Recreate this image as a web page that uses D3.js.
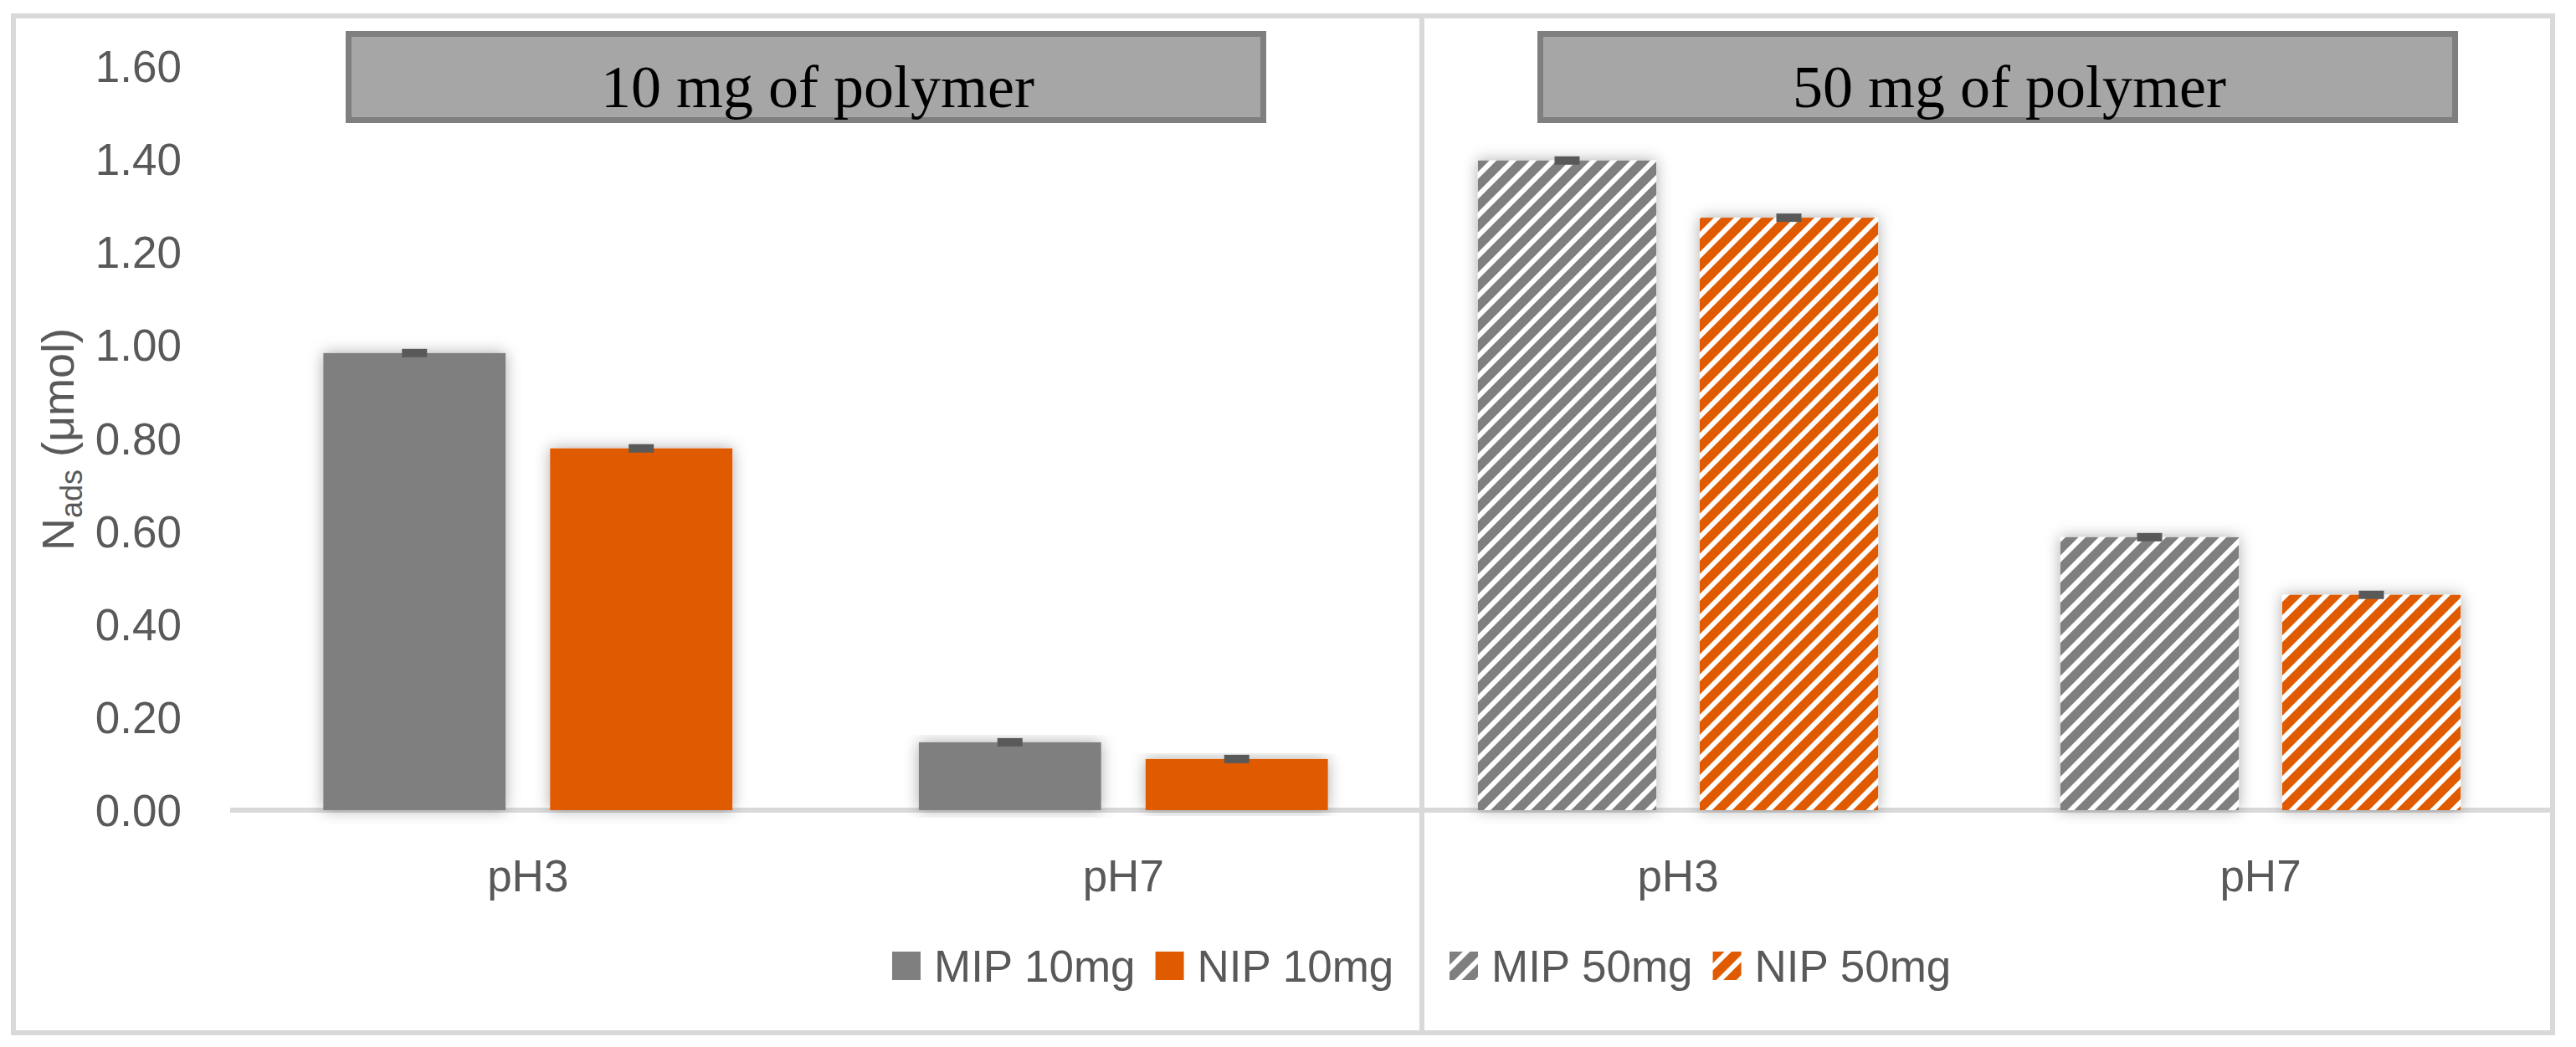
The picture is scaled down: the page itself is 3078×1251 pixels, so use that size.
<!DOCTYPE html>
<html>
<head>
<meta charset="utf-8">
<script src="https://cdn.jsdelivr.net/npm/d3@7"></script>
<style>
  html, body { margin: 0; padding: 0; background: #ffffff; }
  svg { display: block; }
</style>
</head>
<body>
<script>
// ---------------- data ----------------
const categories = ["pH3", "pH7"];
const panelTitles = ["10 mg of polymer", "50 mg of polymer"];
const series10 = ["MIP 10mg", "NIP 10mg"];
const series50 = ["MIP 50mg", "NIP 50mg"];
const mip10 = [0.983, 0.146];
const nip10 = [0.778, 0.110];
const mip50 = [1.397, 0.587];
const nip50 = [1.274, 0.463];
const errMip10 = [0.009, 0.009];
const errNip10 = [0.009, 0.009];
const errMip50 = [0.009, 0.009];
const errNip50 = [0.009, 0.009];
const yTicks = [0, 0.2, 0.4, 0.6, 0.8, 1.0, 1.2, 1.4, 1.6];
const yTitleMain = "N";
const yTitleSub = "ads";
const yTitleUnit = " (μmol)";

// ---------------- layout ----------------
const W = 3078, H = 1251;
const GRAY = "#7f7f7f", ORANGE = "#e05a00", TXT = "#595959", LINE = "#d9d9d9";
const sans = "'Liberation Sans', Arial, sans-serif";
const serif = "'Liberation Serif', 'Times New Roman', serif";

const svg = d3.select("body").append("svg").attr("width", W).attr("height", H);
const defs = svg.append("defs");

// shadow filter
const f = defs.append("filter").attr("id", "shadow")
  .attr("x", "-30%").attr("y", "-10%").attr("width", "160%").attr("height", "120%");
f.append("feDropShadow").attr("dx", 0).attr("dy", 0).attr("stdDeviation", 9)
  .attr("flood-color", "#000").attr("flood-opacity", 0.33);

// hatch patterns
function hatch(id, color) {
  const p = defs.append("pattern").attr("id", id)
    .attr("patternUnits", "userSpaceOnUse")
    .attr("width", 17).attr("height", 17)
    .attr("patternTransform", "rotate(45)");
  p.append("rect").attr("width", 17).attr("height", 17).attr("fill", color);
  p.append("rect").attr("x", 0).attr("width", 6).attr("height", 17).attr("fill", "#ffffff");
}
hatch("hatchGray", GRAY);
hatch("hatchOrange", ORANGE);

// background + borders
svg.append("rect").attr("width", W).attr("height", H).attr("fill", "#fff");
const borderG = svg.append("g").attr("fill", "none").attr("stroke", LINE).attr("stroke-width", 6);
borderG.append("rect").attr("x", 16).attr("y", 19).attr("width", 3034).attr("height", 1215);
borderG.append("line").attr("x1", 1699).attr("x2", 1699).attr("y1", 19).attr("y2", 1234);

// y scale
const y = d3.scaleLinear().domain([0, 1.6]).range([968, 79]);

// y axis labels
const yAxis = d3.axisLeft(y).tickValues(yTicks).tickFormat(d3.format(".2f")).tickSize(0).tickPadding(0);
const yg = svg.append("g").attr("transform", "translate(217,0)").call(yAxis);
yg.select(".domain").remove();
yg.selectAll("text").attr("fill", TXT).attr("font-family", sans).attr("font-size", 53)
  .attr("dy", "0.35em");

// y title
const yt = svg.append("text").attr("transform", "translate(88,525) rotate(-90)")
  .attr("text-anchor", "middle").attr("fill", TXT).attr("font-family", sans).attr("font-size", 54);
yt.append("tspan").text(yTitleMain);
yt.append("tspan").text(yTitleSub).attr("font-size", 36).attr("dy", 10);
yt.append("tspan").text(yTitleUnit).attr("dy", -10);

// panels
const panels = [
  { range: [275, 1698], base: [275, 1699], series: series10, values: [mip10, nip10], errs: [errMip10, errNip10],
    fills: [GRAY, ORANGE], box: [413, 37, 1100, 110], legendX: 1066 },
  { range: [1657, 3049], base: [1699, 3047], series: series50, values: [mip50, nip50], errs: [errMip50, errNip50],
    fills: ["url(#hatchGray)", "url(#hatchOrange)"], box: [1837, 37, 1100, 110], legendX: 1732 }
];

panels.forEach((P, pi) => {
  const g = svg.append("g");
  const x0 = d3.scaleBand().domain(categories).range(P.range).paddingInner(0).paddingOuter(0);
  const bw = x0.bandwidth();
  const gw = bw * 0.687;
  const x1 = d3.scaleBand().domain(P.series).range([(bw - gw) / 2, (bw + gw) / 2]).paddingInner(0.196).paddingOuter(0);

  // baseline
  g.append("line").attr("x1", P.base[0]).attr("x2", P.base[1]).attr("y1", y(0)).attr("y2", y(0))
    .attr("stroke", LINE).attr("stroke-width", 6);

  const data = [];
  categories.forEach((c, ci) => P.series.forEach((s, si) => {
    data.push({ c, s, si, v: P.values[si][ci], e: P.errs[si][ci] });
  }));

  g.selectAll("rect.bar").data(data).enter().append("rect").attr("class", "bar")
    .attr("x", d => x0(d.c) + x1(d.s))
    .attr("width", x1.bandwidth())
    .attr("y", d => y(d.v))
    .attr("height", d => y(0) - y(d.v))
    .attr("fill", d => P.fills[d.si])
    .attr("filter", "url(#shadow)");

  // error bars (caps)
  g.selectAll("rect.err").data(data).enter().append("rect").attr("class", "err")
    .attr("x", d => x0(d.c) + x1(d.s) + x1.bandwidth() / 2 - 15)
    .attr("width", 30)
    .attr("y", d => y(d.v + d.e))
    .attr("height", d => y(d.v - d.e) - y(d.v + d.e))
    .attr("fill", "#595959");

  // category labels
  g.selectAll("text.cat").data(categories).enter().append("text").attr("class", "cat")
    .attr("x", d => x0(d) + bw / 2).attr("y", 1065)
    .attr("text-anchor", "middle").attr("fill", TXT).attr("font-family", sans).attr("font-size", 53)
    .text(d => d);

  // title box
  const [bx, by, bwid, bh] = P.box;
  g.append("rect").attr("x", bx + 3.5).attr("y", by + 3.5).attr("width", bwid - 7).attr("height", bh - 7)
    .attr("fill", "#a6a6a6").attr("stroke", "#7f7f7f").attr("stroke-width", 7);
  g.append("text").attr("x", bx + bwid / 2 + 14).attr("y", 128)
    .attr("text-anchor", "middle").attr("fill", "#000").attr("font-family", serif).attr("font-size", 72)
    .text(panelTitles[pi]);

  // legend
  let lx = P.legendX;
  P.series.forEach((s, si) => {
    g.append("rect").attr("x", lx).attr("y", 1137).attr("width", 34).attr("height", 34).attr("fill", P.fills[si]);
    const t = g.append("text").attr("x", lx + 50).attr("y", 1173).attr("fill", TXT)
      .attr("font-family", sans).attr("font-size", 53).text(s);
    lx = lx + 50 + t.node().getComputedTextLength() + 24;
  });
});
</script>
</body>
</html>
